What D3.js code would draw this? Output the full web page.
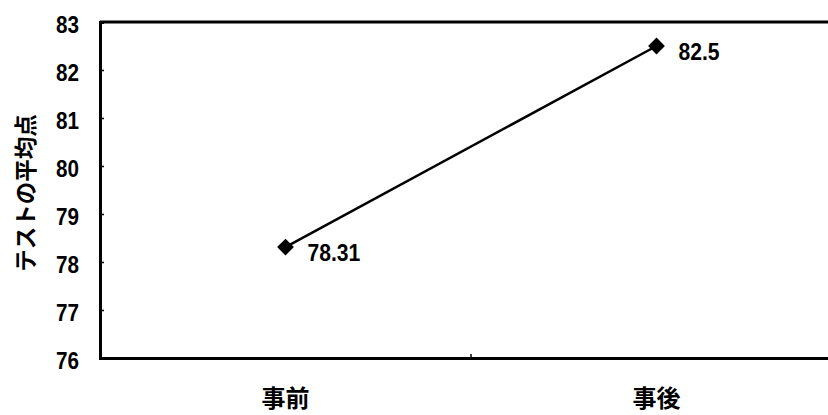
<!DOCTYPE html>
<html lang="ja">
<head>
<meta charset="UTF-8">
<script src="https://d3js.org/d3.v7.min.js"></script>
<style>
  body { margin: 0; background: #fff; }
  svg { display: block; }
  .num { font-family: "Liberation Sans", Arial, sans-serif; font-weight: bold; }
  .jp { font-family: "Noto Sans CJK JP", sans-serif; font-weight: bold; }
</style>
</head>
<body>
<div id="chart"></div>
<script>
// data
const categories = ["事前", "事後"];
const values = [78.31, 82.5];
const valueLabels = ["78.31", "82.5"];
const yTicks = [76, 77, 78, 79, 80, 81, 82, 83];
const yTitle = "テストの平均点";

const W = 828, H = 415;
const plotLeft = 100, plotTop = 22, plotBottom = 358, plotRight = 842;

const svg = d3.select("#chart").append("svg")
  .attr("width", W).attr("height", H);

const x = d3.scaleBand().domain(categories).range([plotLeft, plotRight]);
const y = d3.scaleLinear().domain([76, 83]).range([plotBottom, plotTop]);

// squeeze digits a bit, the original font is a narrow one
function narrow(sel, k) {
  sel.each(function() {
    const len = this.getComputedTextLength();
    d3.select(this).attr("textLength", len * k).attr("lengthAdjust", "spacingAndGlyphs");
  });
}

// frame: top line
svg.append("line")
  .attr("x1", plotLeft).attr("x2", W).attr("y1", plotTop).attr("y2", plotTop)
  .attr("stroke", "#000").attr("stroke-width", 3);

// y axis
const yAxis = svg.append("g")
  .attr("transform", `translate(${plotLeft},0)`)
  .call(d3.axisLeft(y).tickValues(yTicks).tickSize(-4).tickPadding(21).tickFormat(d3.format("d")));
yAxis.select(".domain").attr("stroke-width", 3);
yAxis.selectAll(".tick line").attr("stroke-width", 1.5);
yAxis.selectAll("text")
  .attr("class", "num").attr("font-size", 24).attr("fill", "#000")
  .attr("dy", "0.42em")
  .call(narrow, 0.86);

// x axis
const xAxis = svg.append("g")
  .attr("transform", `translate(0,${plotBottom})`)
  .call(d3.axisBottom(x).tickSize(0).tickPadding(32));
xAxis.select(".domain").attr("stroke-width", 3);
xAxis.selectAll("text").attr("class", "jp").attr("font-size", 24).attr("fill", "#000");

// category boundary tick
svg.append("line")
  .attr("x1", x(categories[1])).attr("x2", x(categories[1]))
  .attr("y1", plotBottom).attr("y2", plotBottom - 4)
  .attr("stroke", "#000").attr("stroke-width", 1.5);

// y title
svg.append("text")
  .attr("class", "jp")
  .attr("transform", `translate(24,193) rotate(-90)`)
  .attr("text-anchor", "middle")
  .attr("dominant-baseline", "central")
  .attr("font-size", 22.5)
  .text(yTitle);

// line
const pts = categories.map((c, i) => ({ c, v: values[i], label: valueLabels[i] }));
const cx = d => x(d.c) + x.bandwidth() / 2;

svg.append("path")
  .datum(pts)
  .attr("fill", "none")
  .attr("stroke", "#000")
  .attr("stroke-width", 2.5)
  .attr("d", d3.line().x(cx).y(d => y(d.v)));

svg.selectAll(".mark")
  .data(pts)
  .join("path")
  .attr("class", "mark")
  .attr("transform", d => `translate(${cx(d)},${y(d.v)})`)
  .attr("d", d3.symbol(d3.symbolDiamond2, 180)());

svg.selectAll(".lbl")
  .data(pts)
  .join("text")
  .attr("class", "num")
  .attr("x", d => cx(d) + 22)
  .attr("y", d => y(d.v) + 5)
  .attr("dominant-baseline", "central")
  .attr("font-size", 24)
  .text(d => d.label)
  .call(narrow, 0.88);
</script>
</body>
</html>
